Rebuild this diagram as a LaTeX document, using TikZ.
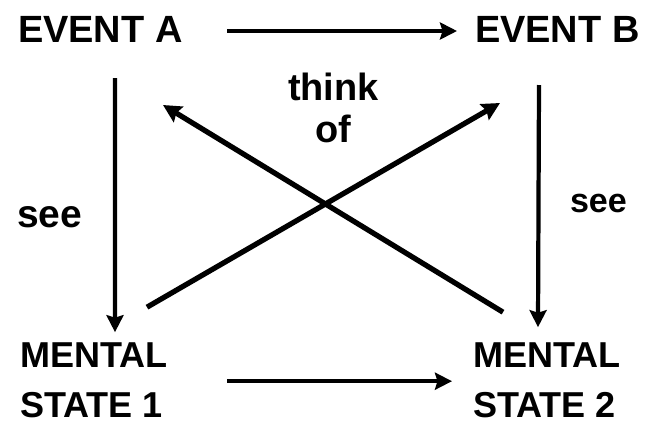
\documentclass[tikz,border=0pt]{standalone}
\usepackage{fontspec}
\setmainfont{Liberation Sans}
\usetikzlibrary{arrows.meta}

\begin{document}
\begin{tikzpicture}[
      event/.style={font=\bfseries\fontsize{21.6}{26}\selectfont,inner sep=0pt,outer sep=0pt,anchor=base west},
      mind/.style={font=\bfseries\fontsize{20.5}{27.9}\selectfont,align=left,inner sep=0pt,outer sep=0pt,anchor=base west},
      tag/.style={font=\bfseries\fontsize{21.6}{23.9}\selectfont,align=center,inner sep=0pt,outer sep=0pt},
      go/.style={-{Stealth[length=0.34cm,width=0.34cm,inset=0.05cm]},line width=2.4pt},
      cross/.style={-{Stealth[length=0.36cm,width=0.36cm,inset=0.05cm]},line width=3pt}]
    \useasboundingbox (0,0) rectangle (12.98,-8.68);
    \node[event] (evA) at (0.36,-0.84) {EVENT A};
    \node[event] (evB) at (9.5,-0.84)  {EVENT B};
    \node[mind]  (ms1) at (0.4,-8.34)  {MENTAL\\STATE 1};
    \node[mind]  (ms2) at (9.46,-8.34) {MENTAL\\STATE 2};
    \node[tag,anchor=base] (think) at (6.67,-2.84) {think\\of};
    \node[tag,anchor=base west,font=\bfseries\fontsize{22.2}{26}\selectfont] (seeL) at (0.34,-4.54) {see};
    \node[tag,anchor=base west,font=\bfseries\fontsize{19.4}{23}\selectfont] (seeR) at (11.4,-4.24) {see};
    \draw[go] ([shift={(4.18,0.22)}]evA.south west) -- ([shift={(-0.36,0.22)}]evB.south west);
    \draw[go] ([shift={(4.14,-0.76)}]ms1.north west) -- ([shift={(-0.42,-0.76)}]ms2.north west);
    \draw[go] ([shift={(1.94,-0.72)}]evA.south west) -- ([shift={(1.9,0.22)}]ms1.north west);
    \draw[go] ([shift={(1.28,-0.86)}]evB.south west) -- ([shift={(1.3,0.32)}]ms2.north west);
    % think of
    \draw[cross] ([shift={(2.54,0.72)}]ms1.north west) -- ([shift={(0.5,-1.22)}]evB.south west);
    \draw[cross] ([shift={(0.6,0.62)}]ms2.north west) -- ([shift={(2.9,-1.26)}]evA.south west);
  \end{tikzpicture}
\end{document}
